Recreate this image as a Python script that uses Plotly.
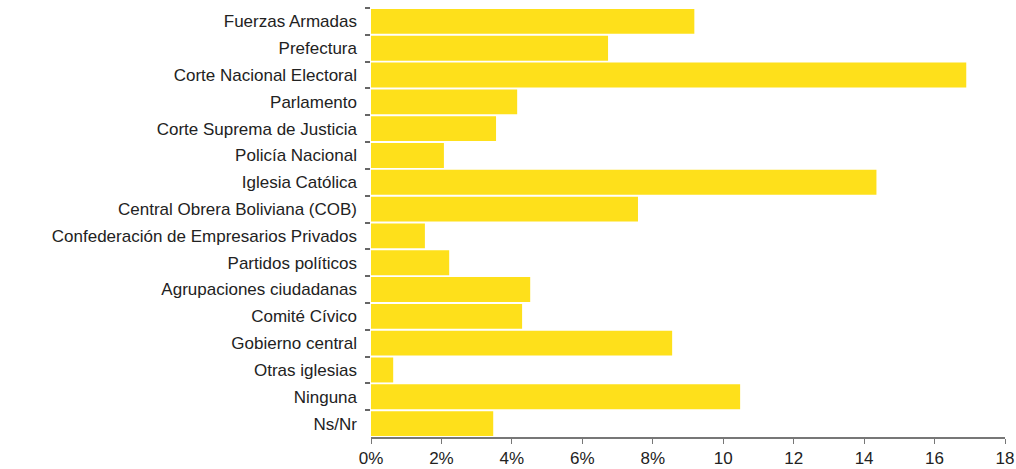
import plotly.graph_objects as go

categories = [
    "Fuerzas Armadas", "Prefectura", "Corte Nacional Electoral", "Parlamento",
    "Corte Suprema de Justicia", "Policía Nacional", "Iglesia Católica",
    "Central Obrera Boliviana (COB)", "Confederación de Empresarios Privados",
    "Partidos políticos", "Agrupaciones ciudadanas", "Comité Cívico",
    "Gobierno central", "Otras iglesias", "Ninguna", "Ns/Nr",
]
values = [9.18, 6.73, 16.9, 4.15, 3.55, 2.07, 14.35, 7.58, 1.53, 2.22,
          4.52, 4.29, 8.55, 0.63, 10.48, 3.47]
tick_vals = [0, 2, 4, 6, 8, 10, 12, 14, 16, 18]
tick_text = ["0%", "2%", "4%", "6%", "8%", "10", "12", "14", "16", "18"]

fig = go.Figure(go.Bar(
    x=values, y=categories, orientation="h",
    marker=dict(color="#FEE01B", line=dict(width=0)),
    width=0.93,
))
fig.update_layout(
    width=1016, height=469,
    margin=dict(l=371, r=11, t=8, b=32, autoexpand=False),
    paper_bgcolor="white", plot_bgcolor="white",
    font=dict(family="Liberation Sans, Arial, sans-serif", size=17, color="#222222"),
    showlegend=False,
)
fig.update_xaxes(
    range=[0, 18], tickvals=tick_vals, ticktext=tick_text,
    showgrid=False, zeroline=False,
    showline=True, linecolor="#777777", linewidth=1.5,
    ticks="outside", ticklen=5, tickcolor="#777777",
    tickfont=dict(size=17), automargin=False,
)
fig.update_yaxes(
    categoryorder="array", categoryarray=categories,
    autorange="reversed", showgrid=False, zeroline=False,
    showline=False, ticks="outside", tickson="boundaries",
    ticklen=5, tickcolor="#666666", tickwidth=1.5,
    ticklabelstandoff=13, tickfont=dict(size=17), automargin=False,
)
fig.write_html(
    "out.html",
    config={"displayModeBar": False},
    post_script="document.body.style.margin='0';document.body.style.overflow='hidden';",
)
